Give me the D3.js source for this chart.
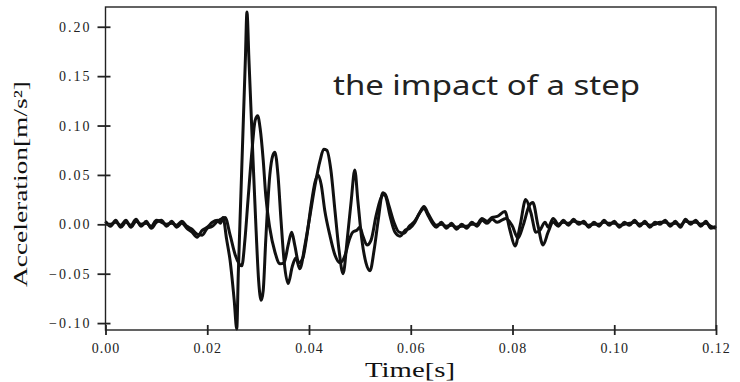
<!DOCTYPE html>
<html>
<head>
<meta charset="utf-8">
<script src="https://cdn.jsdelivr.net/npm/d3@7"></script>
<style>
    body { margin: 0; background: #fff; }
    .tick-label { font-family: "Liberation Serif", "DejaVu Serif", serif; font-size: 14px; fill: #222; }
    .axis-title { font-family: "Liberation Serif", "DejaVu Serif", serif; fill: #111; }
    .note { font-family: "Noto Sans", "Open Sans", sans-serif; fill: #222; }
</style>
</head>
<body>
<svg id="chart"></svg>
<script>
// the two recorded traces (time in s, acceleration in m/s^2)
const timeA = [
    0.000, 0.001, 0.002, 0.003, 0.004, 0.005, 0.006, 0.007, 0.008, 0.009,
    0.010, 0.011, 0.012, 0.013, 0.014, 0.015, 0.016, 0.017, 0.018, 0.019,
    0.020, 0.021, 0.022, 0.023, 0.0235, 0.0245, 0.0255, 0.0268, 0.0274, 0.0280,
    0.0288, 0.0294, 0.0299, 0.0304, 0.0310, 0.0315, 0.0323, 0.0333, 0.0343, 0.0351,
    0.0359, 0.0366, 0.0372, 0.0380, 0.0388, 0.0396, 0.0404, 0.0412, 0.0418, 0.0424,
    0.0431, 0.0441, 0.0451, 0.0461, 0.0471, 0.0479, 0.0486, 0.0494, 0.0500, 0.0506,
    0.0514, 0.0522, 0.0532, 0.0541, 0.0549, 0.0557, 0.0567, 0.0577, 0.0587, 0.0597,
    0.0606, 0.0616, 0.0626, 0.0634, 0.0644, 0.065, 0.066, 0.067, 0.068, 0.069,
    0.070, 0.071, 0.072, 0.073, 0.074, 0.075, 0.076, 0.077, 0.0785, 0.0795,
    0.0805, 0.0815, 0.0826, 0.0836, 0.0846, 0.0854, 0.0864, 0.087, 0.088, 0.089,
    0.090, 0.091, 0.092, 0.093, 0.094, 0.095, 0.096, 0.097, 0.098, 0.099,
    0.100, 0.101, 0.102, 0.103, 0.104, 0.105, 0.106, 0.107, 0.108, 0.109,
    0.110, 0.111, 0.112, 0.113, 0.114, 0.115, 0.116, 0.117, 0.118, 0.119,
    0.120
];
const accelA = [
    0.001, 0.000, 0.002, -0.001, 0.004, -0.003, 0.003, 0.000, 0.001, -0.002,
    0.004, 0.002, 0.000, 0.001, -0.001, 0.003, -0.002, -0.005, -0.010, -0.011,
    -0.004, -0.002, 0.003, 0.006, 0.007, -0.011, -0.031, -0.042, -0.016, 0.024,
    0.075, 0.105, 0.110, 0.097, 0.065, 0.029, -0.004, -0.028, -0.040, -0.039,
    -0.021, -0.008, -0.021, -0.039, -0.034, -0.011, 0.019, 0.043, 0.050, 0.040,
    0.014, -0.011, -0.031, -0.039, -0.031, -0.016, -0.008, -0.006, -0.003, -0.012,
    -0.021, -0.016, 0.009, 0.026, 0.031, 0.019, 0.002, -0.008, -0.009, -0.002,
    0.002, 0.010, 0.018, 0.011, 0.002, -0.001, 0.000, -0.002, -0.001, -0.003,
    -0.002, -0.002, 0.000, 0.000, 0.006, 0.003, 0.007, 0.008, 0.013, -0.006,
    -0.022, -0.001, 0.025, 0.012, -0.008, -0.006, 0.002, -0.003, 0.006, 0.000,
    0.002, 0.001, 0.003, 0.002, 0.001, -0.001, 0.000, 0.000, 0.002, 0.001,
    0.001, -0.001, 0.000, 0.001, 0.002, 0.000, 0.001, -0.001, 0.000, 0.002,
    0.002, 0.000, 0.001, -0.001, 0.003, 0.002, 0.002, 0.000, 0.001, -0.002,
    -0.004
];
const timeB = [
    0.000, 0.001, 0.002, 0.003, 0.004, 0.005, 0.006, 0.007, 0.008, 0.009,
    0.010, 0.011, 0.012, 0.013, 0.014, 0.015, 0.016, 0.017, 0.018, 0.019,
    0.020, 0.021, 0.022, 0.0226, 0.0231, 0.0238, 0.0245, 0.0253, 0.0258, 0.0261,
    0.0266, 0.0271, 0.0275, 0.0278, 0.0282, 0.0286, 0.0290, 0.0296, 0.0301, 0.0306,
    0.0310, 0.0315, 0.0323, 0.0329, 0.0333, 0.0339, 0.0345, 0.0351, 0.0359, 0.0367,
    0.0374, 0.0382, 0.0392, 0.0402, 0.0412, 0.0422, 0.0429, 0.0435, 0.0443, 0.0451,
    0.0459, 0.0467, 0.0475, 0.0483, 0.0490, 0.0496, 0.0504, 0.0512, 0.0520, 0.0528,
    0.0536, 0.0545, 0.0551, 0.0559, 0.0569, 0.0579, 0.0589, 0.0598, 0.0608, 0.0618,
    0.0626, 0.0634, 0.0644, 0.065, 0.066, 0.067, 0.068, 0.069, 0.070, 0.071,
    0.072, 0.073, 0.074, 0.075, 0.076, 0.077, 0.0787, 0.0799, 0.0811, 0.0821,
    0.0833, 0.0840, 0.0850, 0.0860, 0.0870, 0.0880, 0.089, 0.090, 0.091, 0.092,
    0.093, 0.094, 0.095, 0.096, 0.097, 0.098, 0.099, 0.100, 0.101, 0.102,
    0.103, 0.104, 0.105, 0.106, 0.107, 0.108, 0.109, 0.110, 0.111, 0.112,
    0.113, 0.114, 0.115, 0.116, 0.117, 0.118, 0.119, 0.120
];
const accelB = [
    0.003, -0.002, 0.004, -0.003, 0.002, -0.001, 0.005, -0.002, 0.003, -0.004,
    0.002, 0.004, -0.002, 0.003, -0.003, 0.001, -0.004, -0.008, -0.013, -0.006,
    -0.003, 0.002, 0.004, 0.001, 0.007, -0.015, -0.037, -0.077, -0.106, -0.050,
    0.028, 0.106, 0.168, 0.215, 0.166, 0.116, 0.065, -0.006, -0.057, -0.077,
    -0.067, -0.016, 0.050, 0.070, 0.073, 0.050, 0.004, -0.037, -0.060, -0.043,
    -0.034, -0.045, -0.021, 0.009, 0.040, 0.065, 0.076, 0.075, 0.055, 0.014,
    -0.026, -0.050, -0.016, 0.024, 0.055, 0.024, -0.016, -0.039, -0.047, -0.026,
    0.004, 0.032, 0.028, 0.009, -0.008, -0.012, -0.006, -0.004, 0.002, 0.012,
    0.016, 0.009, 0.000, -0.003, 0.002, -0.004, 0.001, -0.005, 0.000, -0.004,
    0.002, -0.002, 0.004, 0.001, 0.005, 0.002, 0.006, -0.001, -0.014, -0.001,
    0.019, 0.022, -0.001, -0.021, -0.008, 0.002, -0.002, 0.004, -0.001, 0.005,
    0.000, 0.003, -0.003, 0.002, -0.002, 0.004, -0.001, 0.003, -0.003, 0.002,
    -0.001, 0.004, -0.002, 0.003, -0.003, 0.002, 0.000, 0.004, -0.002, 0.003,
    -0.003, 0.005, 0.000, 0.004, -0.002, 0.003, -0.004, -0.002
];

const xTicks = [0, 0.02, 0.04, 0.06, 0.08, 0.10, 0.12];
const yTicks = [-0.10, -0.05, 0.00, 0.05, 0.10, 0.15, 0.20];
const xLabel = "Time[s]";
const yLabel = "Acceleration[m/s²]";
const note = "the impact of a step";

class StepPlot {
    constructor(_config) {
        this.config = {
            parentElement: _config.parentElement,
            containerWidth: _config.containerWidth || 740,
            containerHeight: _config.containerHeight || 382,
            margin: { top: 7, right: 24, bottom: 52, left: 105.5 },
        };
        this.series = [
            timeA.map((t, i) => ({ t, v: accelA[i] })),
            timeB.map((t, i) => ({ t, v: accelB[i] })),
        ];
        this.initVis();
    }

    initVis() {
        let vis = this;

        vis.width = vis.config.containerWidth - vis.config.margin.left - vis.config.margin.right;
        vis.height = vis.config.containerHeight - vis.config.margin.top - vis.config.margin.bottom;

        vis.xScale = d3.scaleLinear().domain([0, 0.12]).range([0, vis.width]);
        vis.yScale = d3.scaleLinear().domain([-0.107, 0.22]).range([vis.height, 0]);

        vis.svg = d3.select(vis.config.parentElement)
            .attr("width", vis.config.containerWidth)
            .attr("height", vis.config.containerHeight);

        vis.chart = vis.svg.append("g")
            .attr("transform", `translate(${vis.config.margin.left},${vis.config.margin.top})`);

        vis.renderVis();
    }

    renderVis() {
        let vis = this;

        // monotone keeps the noisy parts from looping
        const line = d3.line()
            .x(d => vis.xScale(d.t))
            .y(d => vis.yScale(d.v))
            .curve(d3.curveMonotoneX);

        vis.chart.selectAll(".trace")
            .data(vis.series)
            .join("path")
            .attr("class", "trace")
            .attr("d", line)
            .attr("fill", "none")
            .attr("stroke", "#111")
            .attr("stroke-width", 3)
            .attr("stroke-linejoin", "round");

        // frame
        vis.chart.append("rect")
            .attr("width", vis.width)
            .attr("height", vis.height)
            .attr("fill", "none")
            .attr("stroke", "#222")
            .attr("stroke-width", 1.4);

        // x axis, ticks crossing the bottom line
        const xAxisG = vis.chart.append("g")
            .attr("transform", `translate(0,${vis.height})`)
            .call(d3.axisBottom(vis.xScale).tickValues(xTicks).tickFormat(d3.format(".2f")).tickSize(5).tickPadding(8));
        xAxisG.select(".domain").remove();
        xAxisG.selectAll(".tick line").attr("y1", -5).attr("stroke", "#222").attr("stroke-width", 1.8);
        xAxisG.selectAll(".tick text").attr("class", "tick-label").attr("font-size", null).attr("font-family", null)
            .style("letter-spacing", "1px");

        // y axis
        const yAxisG = vis.chart.append("g")
            .call(d3.axisLeft(vis.yScale).tickValues(yTicks).tickFormat(d3.format(".2f")).tickSize(8).tickPadding(6));
        yAxisG.select(".domain").remove();
        yAxisG.selectAll(".tick line").attr("x1", 5).attr("stroke", "#222").attr("stroke-width", 1.8);
        yAxisG.selectAll(".tick text").attr("class", "tick-label").attr("font-size", null).attr("font-family", null)
            .style("letter-spacing", "2px");

        vis.svg.append("text")
            .attr("class", "axis-title")
            .attr("x", 410)
            .attr("y", 377)
            .attr("text-anchor", "middle")
            .attr("font-size", 22)
            .attr("textLength", 90)
            .attr("lengthAdjust", "spacingAndGlyphs")
            .text(xLabel);

        vis.svg.append("text")
            .attr("class", "axis-title")
            .attr("transform", "translate(27,184) rotate(-90)")
            .attr("text-anchor", "middle")
            .attr("font-size", 19)
            .attr("textLength", 206)
            .attr("lengthAdjust", "spacingAndGlyphs")
            .text(yLabel);

        vis.svg.append("text")
            .attr("class", "note")
            .attr("x", 333)
            .attr("y", 95)
            .attr("font-size", 28)
            .attr("textLength", 307)
            .attr("lengthAdjust", "spacingAndGlyphs")
            .text(note);
    }
}

new StepPlot({ parentElement: "#chart" });
</script>
</body>
</html>
